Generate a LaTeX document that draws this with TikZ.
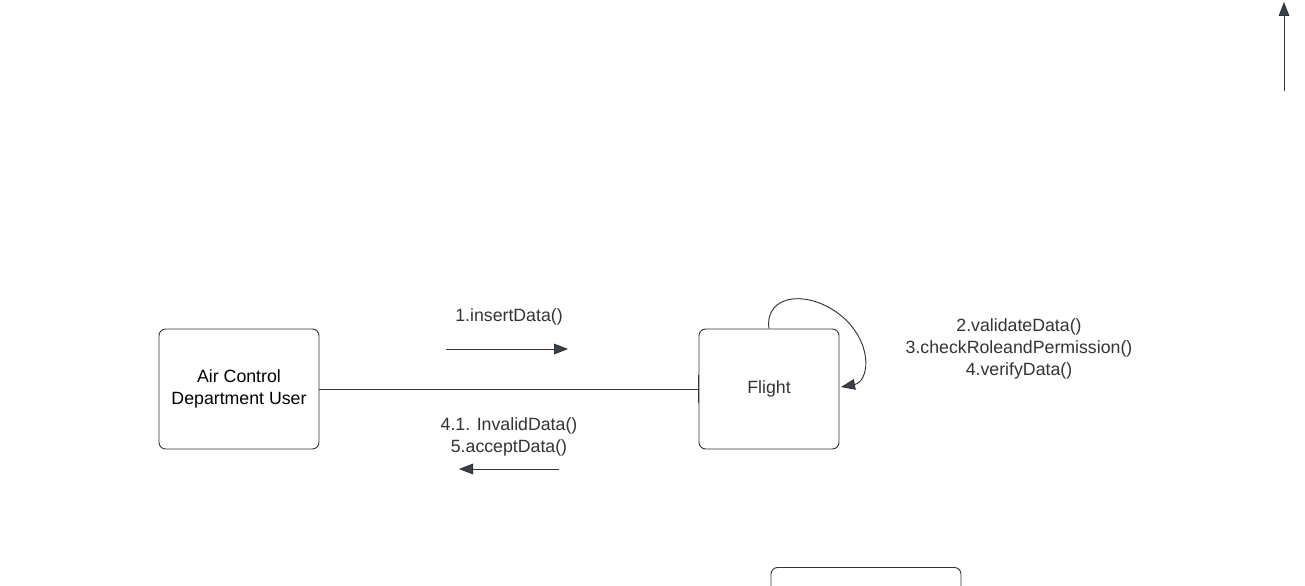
\documentclass[tikz,border=0pt]{standalone}
\usepackage{fontspec}
\setmainfont{Liberation Sans}
\usetikzlibrary{arrows.meta}
\definecolor{ln}{HTML}{333333}
\definecolor{ah}{HTML}{3A414A}
\definecolor{tx}{HTML}{333333}
\begin{document}
\begin{tikzpicture}[x=0.75pt,y=-0.75pt,
  obj/.style={draw=ln,line width=0.7pt,rounded corners=5pt,minimum width=120pt,minimum height=90pt,inner sep=0pt,align=center,font=\fontsize{13.3}{16}\selectfont},
  lbl/.style={text=tx,align=center,font=\fontsize{13.3}{16.5}\selectfont,inner sep=0pt},
  msg/.style={draw=ln,line width=0.7pt,-{Triangle[length=10.5pt,width=8pt,fill=ah]}}]
\useasboundingbox (0,0) rectangle (1305,585);
\begin{scope}
\clip (0,0) rectangle (1305,585);
\node[obj] (user) at (239,389) {Air Control\\Department User};
\node[obj,minimum width=105pt,text=tx] (flight) at (769,389) {Flight};
\node[obj,minimum width=142.5pt,anchor=north] (bottom) at (866,567) {};
% association
\draw[draw=ln,line width=0.7pt] (user.east) -- (flight.west);
\draw[draw=ln,line width=0.7pt] ([yshift=10.5pt]flight.west) -- ([yshift=-10.5pt]flight.west);
% messages
\coordinate (m1s) at (446,349);
\coordinate (m1e) at (568,349);
\draw[msg] (m1s) -- (m1e);
\node[lbl] (l1) at (509,317) {1.insertData()};
\coordinate (m2s) at (559,469);
\coordinate (m2e) at (459,469);
\draw[msg] (m2s) -- (m2e);
\node[lbl] (l2) at (509,437) {4.1. InvalidData()\\5.acceptData()};
% self loop
\coordinate (sl) at (841,387);
\draw[msg] (flight.north) .. controls (764,293) and (812,288) .. (846,320) .. controls (874,348) and (868,382) .. (sl);
\node[lbl] (l3) at (1019,348.5) {2.validateData()\\3.checkRoleandPermission()\\4.verifyData()};
% top-right arrow
\coordinate (ta) at (1284,91);
\coordinate (tb) at (1284,2);
\draw[msg] (ta) -- (tb);
\end{scope}
\end{tikzpicture}
\end{document}
